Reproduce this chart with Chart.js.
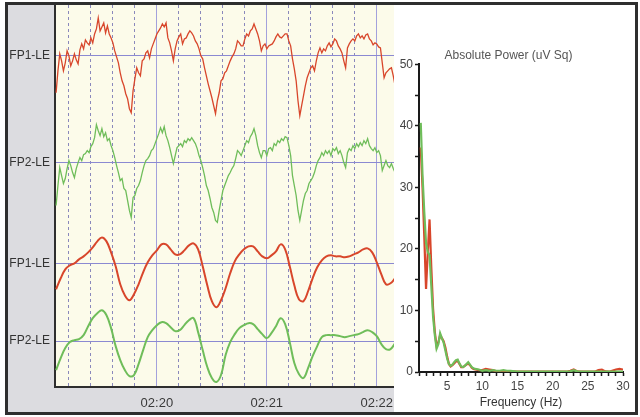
<!DOCTYPE html>
<html>
<head>
<meta charset="utf-8">
<script src="https://cdn.jsdelivr.net/npm/chart.js@4.4.1/dist/chart.umd.min.js"></script>
<style>
  html, body { margin: 0; padding: 0; background: #fff; }
  #frame { position: absolute; left: 5px; top: 2px; width: 627px; height: 407px; border: 3px solid #2e2e2e; background: #fff; }
  #eeg { position: absolute; left: 0; top: 0; background: #dcdce0; }
  #power { position: absolute; left: 386px; top: 0; background: #fff; }
</style>
</head>
<body>
<div id="frame">
  <canvas id="eeg" width="386" height="407"></canvas>
  <canvas id="power" width="241" height="407"></canvas>
</div>
<script>
Chart.defaults.font.family = "'Liberation Sans', Arial, sans-serif";

// EEG traces, seconds since 02:19:00
const channelLabels = ['FP1-LE', 'FP2-LE', 'FP1-LE', 'FP2-LE'];
const rawStart = 5, rawStep = 1;
const slowStart = 5, slowStep = 2.5;

const fp1Raw = [
  -37,-15,2,-5,-15,-7,5,0,-10,-5,
  2,-4,-8,6,12,7,16,13,11,18,
  13,22,27,38,25,29,33,23,30,22,
  18,13,5,-1,-7,-17,-25,-30,-38,-43,
  -53,-57,-35,-23,-12,-17,-20,-5,-3,3,
  5,-2,7,12,17,22,25,28,32,29,
  33,18,13,5,-5,7,15,19,22,12,
  17,18,22,25,23,20,15,12,7,0,
  -3,-12,-20,-28,-35,-42,-50,-58,-45,-37,
  -25,-23,-17,-15,-10,-5,-1,2,7,15,
  13,10,10,17,22,20,25,27,32,27,
  22,15,5,10,12,7,10,11,12,15,
  19,22,19,18,20,22,22,15,10,-3,
  -13,-25,-45,-60,-50,-40,-30,-22,-17,-12,
  -10,-15,-5,3,8,3,7,5,10,13,
  9,12,17,15,10,7,3,-5,-12,8,
  12,15,17,15,20,22,18,20,17,21,
  22,17,15,11,13,12,9,8,-7,-22,
  -17,-15,-13,-12,-20,-30
];
const fp2Raw = [
  -43,-23,-5,-13,-21,-16,-6,2,-3,-10,
  -15,-6,0,5,2,8,9,12,10,16,
  19,25,38,32,27,34,26,30,22,24,
  17,12,5,-3,-10,-18,-16,-26,-28,-38,
  -48,-55,-35,-33,-26,-23,-18,-10,-3,2,
  4,7,12,14,19,24,29,35,30,36,
  27,22,15,7,-1,7,15,17,19,16,
  22,20,24,22,25,22,19,14,7,2,
  -5,-13,-23,-28,-36,-45,-50,-58,-60,-48,
  -38,-28,-23,-18,-13,-10,-6,-3,4,12,
  10,7,12,17,22,20,26,29,34,27,
  17,10,5,12,12,7,14,15,12,19,
  17,22,20,24,22,26,25,17,7,-13,
  -23,-33,-48,-58,-48,-38,-31,-28,-21,-18,
  -15,-10,-3,2,5,10,7,12,9,12,
  7,14,12,15,9,12,7,0,-5,10,
  14,12,17,14,19,16,20,17,22,19,
  24,17,14,12,15,10,12,7,-8,-3,
  2,-3,-5,-1,-6,-10
];
const fp1Slow = [
  -26,-15,-6,-2,0,4,7,11,16,22,
  26,22,11,-3,-21,-32,-37,-31,-21,-9,
  1,8,13,19,19,14,9,9,13,18,
  20,14,-3,-22,-38,-44,-37,-25,-10,2,
  9,14,17,17,12,7,5,8,12,19,
  14,-3,-22,-36,-38,-28,-15,-4,3,7,
  8,7,7,6,7,9,11,14,15,11,
  1,-11,-21,-20,-15
];
const fp2Slow = [
  -29,-17,-7,-1,1,2,6,15,23,28,
  31,26,13,-5,-19,-29,-35,-34,-23,-9,
  4,11,16,19,18,14,10,11,16,21,
  23,9,-9,-26,-37,-41,-34,-14,-1,7,
  13,16,18,17,12,7,3,8,15,23,
  17,-1,-22,-33,-37,-27,-15,-5,4,6,
  6,6,5,4,5,6,7,9,11,9,
  5,-3,-8,-8,-2
];

const minuteTicks = [60, 120, 180];
const minuteLabels = ['02:20', '02:21', '02:22'];
const dotTicks = [12, 24, 36, 48, 72, 84, 96, 108, 132, 144, 156, 168];

// power spectrum
const freqHz = [1.25,1.5,1.75,2,2.25,2.5,2.75,3,3.25,3.5,3.75,4,4.25,4.5,4.75,5,5.25,5.5,5.75,6,
  6.25,6.5,6.75,7,7.25,7.5,7.75,8,8.25,8.5,8.75,9,9.5,10,10.5,11,11.5,12,12.5,13,13.5,14,
  15,16,17,18,19,20,21,22,22.5,23,23.5,24,25,26,26.5,27,27.5,28,29,29.5,30];
const fp2Power = [40.5,32,26,21,19.5,19,14,9,6,3.8,4.5,6.3,5.5,4.8,3.5,2.2,1.3,1.0,1.2,1.6,
  1.9,2.0,1.4,0.9,0.8,1.0,1.3,1.6,1.2,0.8,0.6,0.5,0.4,0.2,0.3,0.2,0.3,0.2,0.2,0.3,0.2,0.2,
  0.05,0.05,0.05,0.05,0.05,0.05,0.05,0.05,0.1,0.3,0.1,0.05,0.05,0.05,0.05,0.05,0.05,0.05,0.05,0.05,0.05];
const fp1Power = [36.5,30,22,13.5,19.5,24.8,17,10.3,6.5,4.2,4.8,6,5.5,5,4,2.5,1.3,0.9,1.1,1.4,
  1.7,1.8,1.3,0.8,0.8,1.0,1.2,1.4,1.1,0.7,0.5,0.4,0.3,0.3,0.5,0.4,0.3,0.1,0.1,0.1,0.1,0.1,
  0.05,0.05,0.05,0.05,0.05,0.05,0.05,0.05,0.2,0.4,0.1,0.05,0.05,0.05,0.3,0.4,0.1,0.05,0.4,0.5,0.4];
const hzTicks = [1,2,3,4,5,6,7,8,9,10,11,12,13,14,15,16,17,18,19,20,21,22,23,24,25,26,27,28,29,30];
const powerTicks = [0,5,10,15,20,25,30,35,40,45,50];

const RED = '#d8462b';
const GREEN = '#6fbd5a';
const GRID = '#8b89d2';
const INK = '#2e2e2e';

function series(values, start, step) {
  return values.map((v, i) => ({ x: start + i * step, y: v }));
}

const creamArea = {
  id: 'creamArea',
  beforeDraw(chart) {
    const { ctx, chartArea: a } = chart;
    ctx.save();
    ctx.fillStyle = '#fcfbea';
    ctx.fillRect(a.left, a.top, a.right - a.left, a.bottom - a.top);
    ctx.restore();
  }
};

function channelAxis(label, min, max, weight) {
  return {
    type: 'linear', position: 'left', stack: 'eeg', stackWeight: weight, min: min, max: max,
    afterBuildTicks: s => { s.ticks = [{ value: 0 }]; },
    afterFit: s => { s.width = 47; s.paddingTop = 0; s.paddingBottom = 0; },
    ticks: { callback: () => label, color: '#333', font: { size: 12 }, padding: 5 },
    grid: { color: GRID, lineWidth: 1, drawTicks: false },
    border: { color: INK, width: 2 }
  };
}

function trace(values, start, step, color, width, tension, axis) {
  return {
    data: series(values, start, step), yAxisID: axis, borderColor: color, borderWidth: width,
    pointRadius: 0, tension: tension, clip: false
  };
}

new Chart(document.getElementById('eeg'), {
  type: 'line',
  data: {
    datasets: [
      trace(fp1Raw, rawStart, rawStep, RED, 1.3, 0, 'y1'),
      trace(fp2Raw, rawStart, rawStep, GREEN, 1.3, 0, 'y2'),
      trace(fp1Slow, slowStart, slowStep, RED, 2, 0.4, 'y3'),
      trace(fp2Slow, slowStart, slowStep, GREEN, 2, 0.4, 'y4')
    ]
  },
  options: {
    responsive: false,
    animation: false,
    events: [],
    layout: { padding: 0 },
    plugins: { legend: { display: false }, tooltip: { enabled: false } },
    scales: {
      x: {
        type: 'linear', position: 'bottom', min: 4.4, max: 189.4,
        afterBuildTicks: s => { s.ticks = minuteTicks.map(v => ({ value: v })); },
        afterFit: s => { s.height = 25; s.paddingLeft = 0; s.paddingRight = 0; },
        ticks: {
          autoSkip: false, maxRotation: 0, color: '#3a3a3a', font: { size: 13 }, padding: 9,
          callback: v => { const i = minuteTicks.indexOf(v); return i >= 0 ? minuteLabels[i] : ''; }
        },
        grid: { color: '#a3a1dc', lineWidth: 1, drawTicks: false },
        border: { color: INK, width: 2 }
      },
      xDots: {
        type: 'linear', position: 'bottom', min: 4.4, max: 189.4,
        afterBuildTicks: s => { s.ticks = dotTicks.map(v => ({ value: v })); },
        afterFit: s => { s.height = 0; s.paddingLeft = 0; s.paddingRight = 0; },
        ticks: { display: false },
        grid: { color: '#8a88bc', lineWidth: 1, drawTicks: false },
        border: { display: false, dash: [3, 3] }
      },
      y4: channelAxis(channelLabels[3], -46, 41, 87),
      y3: channelAxis(channelLabels[2], -37, 49, 86),
      y2: channelAxis(channelLabels[1], -52, 52, 104),
      y1: channelAxis(channelLabels[0], -55, 51, 106)
    }
  },
  plugins: [creamArea]
});

new Chart(document.getElementById('power'), {
  type: 'line',
  data: {
    datasets: [
      { data: freqHz.map((f, i) => ({ x: f, y: fp2Power[i] })), borderColor: GREEN, borderWidth: 2.2, pointRadius: 0, tension: 0 },
      { data: freqHz.map((f, i) => ({ x: f, y: fp1Power[i] })), borderColor: RED, borderWidth: 2.2, pointRadius: 0, tension: 0 }
    ]
  },
  options: {
    responsive: false,
    animation: false,
    events: [],
    layout: { padding: { left: 0, right: 12, top: 0, bottom: 0 } },
    plugins: {
      legend: { display: false },
      tooltip: { enabled: false },
      title: {
        display: true, text: 'Absolute Power (uV Sq)', color: '#555',
        font: { size: 12, weight: 'normal' }, padding: { top: 43, bottom: 2 }
      }
    },
    scales: {
      x: {
        type: 'linear', min: 1, max: 30,
        afterBuildTicks: s => { s.ticks = hzTicks.map(v => ({ value: v })); },
        afterFit: s => { s.height = 40; s.paddingLeft = 0; s.paddingRight = 0; },
        ticks: {
          autoSkip: false, maxRotation: 0, color: '#444', font: { size: 12 }, padding: 3,
          callback: v => (v % 5 === 0 ? String(v) : '')
        },
        grid: { drawOnChartArea: false, color: '#1a1a1a', tickLength: 4, tickWidth: 1.5 },
        border: { color: '#1a1a1a', width: 2 },
        title: { display: true, text: 'Frequency (Hz)', color: '#333', font: { size: 12 }, padding: { top: 0, bottom: 2 } }
      },
      y: {
        type: 'linear', min: 0, max: 50,
        afterBuildTicks: s => { s.ticks = powerTicks.map(v => ({ value: v })); },
        afterFit: s => { s.width = 25; },
        ticks: {
          autoSkip: false, color: '#444', font: { size: 12 }, padding: 2,
          callback: v => (v % 10 === 0 ? String(v) : '')
        },
        grid: { drawOnChartArea: false, color: '#1a1a1a', tickLength: 4, tickWidth: 1.5 },
        border: { color: '#1a1a1a', width: 2 }
      }
    }
  }
});
</script>
</body>
</html>
